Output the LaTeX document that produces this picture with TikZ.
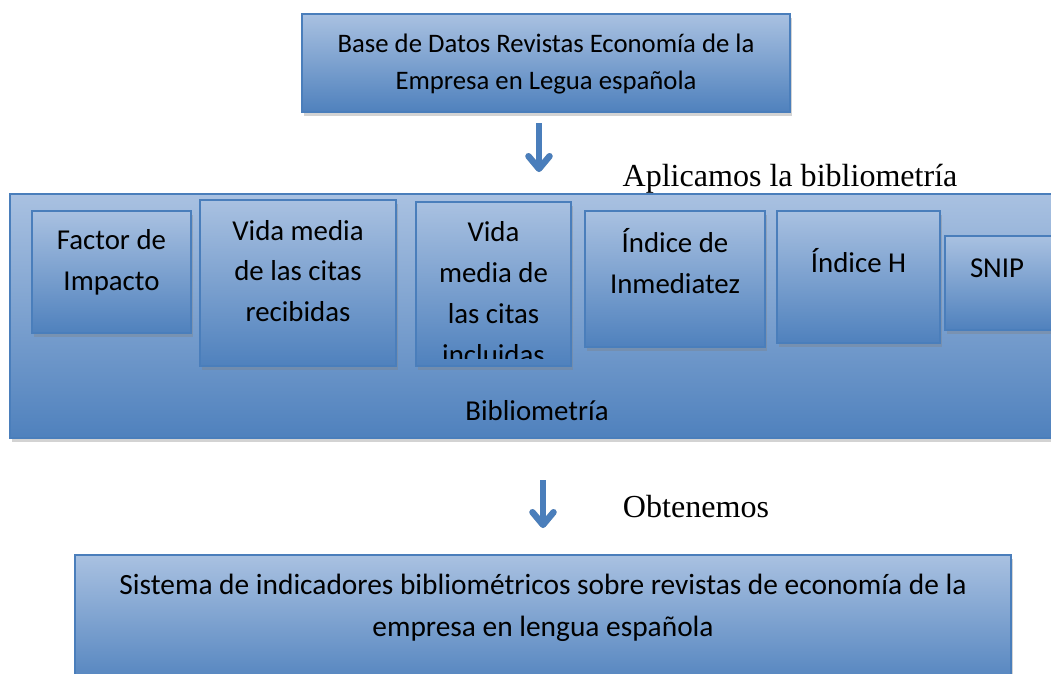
\documentclass[tikz,border=0pt]{standalone}
\usepackage{fontspec}
\setmainfont{Carlito}
\newfontfamily\serifface{Liberation Serif}
\usetikzlibrary{arrows.meta,positioning,fit,shadows}
\definecolor{boxtop}{HTML}{A9C1E1}
\definecolor{boxbot}{HTML}{4F81BD}
\definecolor{boxline}{HTML}{4A7EBB}

\begin{document}
\begin{tikzpicture}[x=0.025cm, y=-0.025cm,
    box/.style={draw=boxline, line width=1pt, top color=boxtop, bottom color=boxbot, inner sep=0pt,
      drop shadow={shadow xshift=1.5pt, shadow yshift=-2.5pt, fill=gray, opacity=0.35}},
    intxt/.style={align=center, inner sep=0pt, font=\fontsize{20.5}{29}\selectfont},
    note/.style={inner sep=0pt, font=\serifface\fontsize{22.8}{26}\selectfont},
    flow/.style={draw=boxline, line width=4.5pt, -{Straight Barb[length=9pt, width=15pt, round]}},
    flowshade/.style={flow, draw=gray!45, shift={(2,3)}}]

  \useasboundingbox (0,0) rectangle (1051,673);
  \clip (0,0) rectangle (1051,673);

  % source
  \node[box, fit={(302,14) (790,112)}] (db) {};
  \node[intxt, font=\fontsize{19}{26.3}\selectfont] (dbt) at (546,64.5)
    {Base de Datos Revistas Economía de la\\Empresa en Legua española};

  \coordinate (a1s) at (539,123);
  \coordinate (a1e) at (539,172);
  \draw[flowshade] (a1s) -- (a1e);
  \draw[flow] (a1s) -- (a1e);
  \node[note] (apl) at (790,179) {Aplicamos la bibliometría};

  % bibliometria block
  \node[box, fit={(10,194) (1062,438)}] (bib) {};
  \node[intxt] (bibl) at (537,411) {Bibliometría};

  \node[box, fit={(32,211) (191,333)}] (fi) {};
  \node[intxt] (fit) at (111.5,262) {Factor de\\Impacto};

  \node[box, fit={(200,200) (396,366)}] (vr) {};
  \node[intxt] (vrt) at (298,271) {Vida media\\de las citas\\recibidas};

  \node[box, fit={(416,202) (571,366)}] (vi) {};
  \begin{scope}
    \clip (vi.north west) rectangle ([yshift=0.2cm]vi.south east);
    \node[intxt] (vit) at (493.5,293) {Vida\\media de\\las citas\\incluidas};
  \end{scope}

  \node[box, fit={(585,211) (765,347)}] (ii) {};
  \node[intxt] (iit) at (675,261) {Índice de\\Inmediatez};

  \node[box, fit={(777,211) (940,343)}] (ih) {};
  \node[intxt] (iht) at (858.5,261) {Índice H};

  \node[box, fit={(945,236) (1062,330)}] (sn) {};
  \node[intxt] (snt) at (997,268) {SNIP};

  % result
  \coordinate (a2s) at (543,480);
  \coordinate (a2e) at (543,528);
  \draw[flowshade] (a2s) -- (a2e);
  \draw[flow] (a2s) -- (a2e);
  \node[note] (obt) at (696,507) {Obtenemos};

  \node[box, fit={(75,555) (1011,690)}] (sis) {};
  \node[intxt, font=\fontsize{20.9}{30}\selectfont] (sist) at (543,608)
    {Sistema de indicadores bibliométricos sobre revistas de economía de la\\empresa en lengua española};
\end{tikzpicture}
\end{document}
